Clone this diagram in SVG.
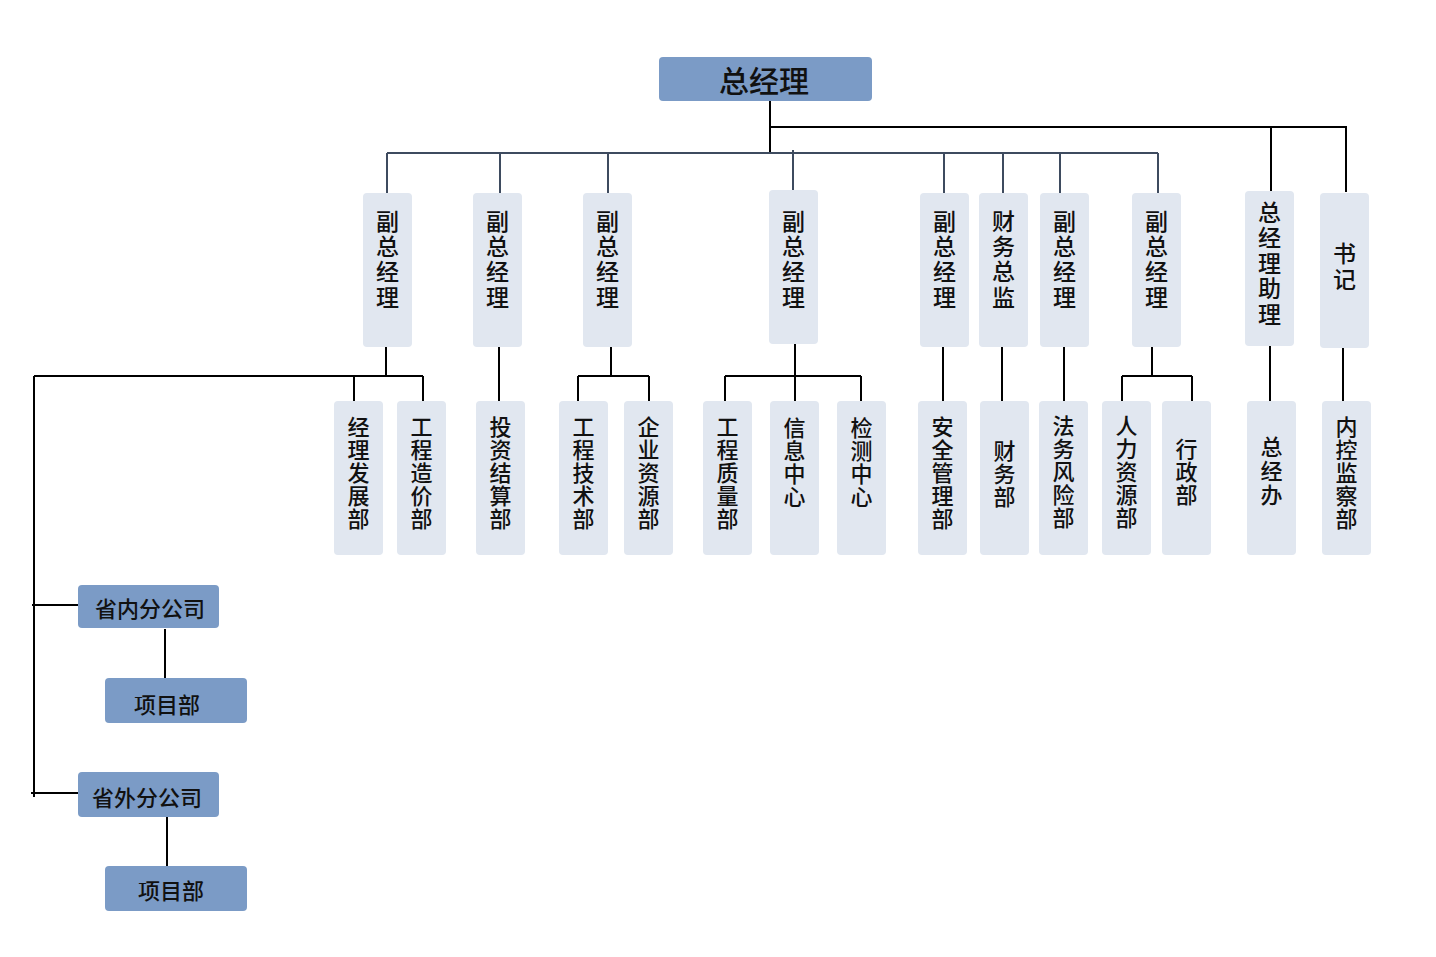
<svg xmlns="http://www.w3.org/2000/svg" width="1436" height="957" viewBox="0 0 1436 957">
<style>
.bg{fill:#ffffff}
.dark{fill:#7B9BC6}
.light{fill:#E1E7F0}
.t{font-family:"Noto Sans CJK SC","Noto Sans",sans-serif;font-weight:500;fill:#111111;text-anchor:middle;dominant-baseline:central}
.v{font-family:"Noto Sans CJK SC","Noto Sans",sans-serif;font-weight:500;fill:#111111;writing-mode:vertical-rl;text-anchor:start;dominant-baseline:central}
.tm{font-size:23px;letter-spacing:2.3px}
.tb{font-size:22px;letter-spacing:1px}
.tl{font-size:22px}
.tt{font-size:30px}
.k{stroke:#000000;stroke-width:2;fill:none}
.g{stroke:#3E4B5F;stroke-width:2;fill:none}
</style>
<rect class="bg" x="0" y="0" width="1436" height="957"/>
<g id="connectors">
  <path class="k" d="M770 101V153 M770 127H1347 M1271 127V192 M1346 127V192"/>
  <path class="g" d="M387 153H1158 M387 153V193 M500 153V193 M608 153V193 M793 150V190 M944 153V193 M1003 153V193 M1060 153V193 M1158 153V193"/>
  <path class="k" d="M386 347V376 M34 376H423 M354 376V401 M423 376V401 M34 376V797 M32 605H78 M31 793H78"/>
  <path class="k" d="M165 629V678 M167 817V866"/>
  <path class="k" d="M499 347V401"/>
  <path class="k" d="M611 347V376 M578 376H649 M578 376V401 M649 376V401"/>
  <path class="k" d="M795 344V401 M725 376H861 M725 376V401 M861 376V401"/>
  <path class="k" d="M943 347V401 M1002 347V401 M1064 347V401"/>
  <path class="k" d="M1152 347V376 M1122 376H1192 M1122 376V401 M1192 376V401"/>
  <path class="k" d="M1270 346V401 M1343 348V401"/>
</g>
<g id="ceo"><rect class="dark" x="659" y="57" width="213" height="44" rx="4"/><text class="t tt" x="764" y="79">总经理</text></g>

<g id="vp1"><rect class="light" x="363" y="193" width="49" height="154" rx="4"/><text class="v tm" x="387.5" y="209.5">副总经理</text></g>
<g id="vp2"><rect class="light" x="473" y="193" width="49" height="154" rx="4"/><text class="v tm" x="497.5" y="209.5">副总经理</text></g>
<g id="vp3"><rect class="light" x="583" y="193" width="49" height="154" rx="4"/><text class="v tm" x="607.5" y="209.5">副总经理</text></g>
<g id="vp4"><rect class="light" x="769" y="190" width="49" height="154" rx="4"/><text class="v tm" x="793.5" y="209.5">副总经理</text></g>
<g id="vp5"><rect class="light" x="920" y="193" width="49" height="154" rx="4"/><text class="v tm" x="944.5" y="209.5">副总经理</text></g>
<g id="cfo"><rect class="light" x="979" y="193" width="49" height="154" rx="4"/><text class="v tm" x="1003.5" y="209.5">财务总监</text></g>
<g id="vp6"><rect class="light" x="1040" y="193" width="49" height="154" rx="4"/><text class="v tm" x="1064.5" y="209.5">副总经理</text></g>
<g id="vp7"><rect class="light" x="1132" y="193" width="49" height="154" rx="4"/><text class="v tm" x="1156.5" y="209.5">副总经理</text></g>
<g id="assistant"><rect class="light" x="1245" y="191" width="49" height="155" rx="4"/><text class="v tm" x="1269.5" y="200.5" style="letter-spacing:2.5px">总经理助理</text></g>
<g id="secretary"><rect class="light" x="1320" y="193" width="49" height="155" rx="4"/><text class="v tm" x="1344.5" y="241.5" style="letter-spacing:3px">书记</text></g>

<g id="d1"><rect class="light" x="334" y="401" width="49" height="154" rx="4"/><text class="v tb" x="358.5" y="416">经理发展部</text></g>
<g id="d2"><rect class="light" x="397" y="401" width="49" height="154" rx="4"/><text class="v tb" x="421.5" y="416">工程造价部</text></g>
<g id="d3"><rect class="light" x="476" y="401" width="49" height="154" rx="4"/><text class="v tb" x="500.5" y="416">投资结算部</text></g>
<g id="d4"><rect class="light" x="559" y="401" width="49" height="154" rx="4"/><text class="v tb" x="583.5" y="416">工程技术部</text></g>
<g id="d5"><rect class="light" x="624" y="401" width="49" height="154" rx="4"/><text class="v tb" x="648.5" y="416">企业资源部</text></g>
<g id="d6"><rect class="light" x="703" y="401" width="49" height="154" rx="4"/><text class="v tb" x="727.5" y="416">工程质量部</text></g>
<g id="d7"><rect class="light" x="770" y="401" width="49" height="154" rx="4"/><text class="v tb" x="794.5" y="417">信息中心</text></g>
<g id="d8"><rect class="light" x="837" y="401" width="49" height="154" rx="4"/><text class="v tb" x="861.5" y="417">检测中心</text></g>
<g id="d9"><rect class="light" x="918" y="401" width="49" height="154" rx="4"/><text class="v tb" x="942.5" y="416">安全管理部</text></g>
<g id="d10"><rect class="light" x="980" y="401" width="49" height="154" rx="4"/><text class="v tb" x="1004.5" y="440">财务部</text></g>
<g id="d11"><rect class="light" x="1039" y="401" width="49" height="154" rx="4"/><text class="v tb" x="1063.5" y="415">法务风险部</text></g>
<g id="d12"><rect class="light" x="1102" y="401" width="49" height="154" rx="4"/><text class="v tb" x="1126.5" y="415">人力资源部</text></g>
<g id="d13"><rect class="light" x="1162" y="401" width="49" height="154" rx="4"/><text class="v tb" x="1186.5" y="438">行政部</text></g>
<g id="d14"><rect class="light" x="1247" y="401" width="49" height="154" rx="4"/><text class="v tb" x="1271.5" y="436" style="letter-spacing:2px">总经办</text></g>
<g id="d15"><rect class="light" x="1322" y="401" width="49" height="154" rx="4"/><text class="v tb" x="1346.5" y="416">内控监察部</text></g>

<g id="branch-in"><rect class="dark" x="78" y="585" width="141" height="43" rx="4"/><text class="t tl" x="150" y="607">省内分公司</text></g>
<g id="proj-in"><rect class="dark" x="105" y="678" width="142" height="45" rx="4"/><text class="t tl" x="167" y="703">项目部</text></g>
<g id="branch-out"><rect class="dark" x="78" y="772" width="141" height="45" rx="4"/><text class="t tl" x="147" y="796">省外分公司</text></g>
<g id="proj-out"><rect class="dark" x="105" y="866" width="142" height="45" rx="4"/><text class="t tl" x="171" y="889">项目部</text></g>
</svg>
